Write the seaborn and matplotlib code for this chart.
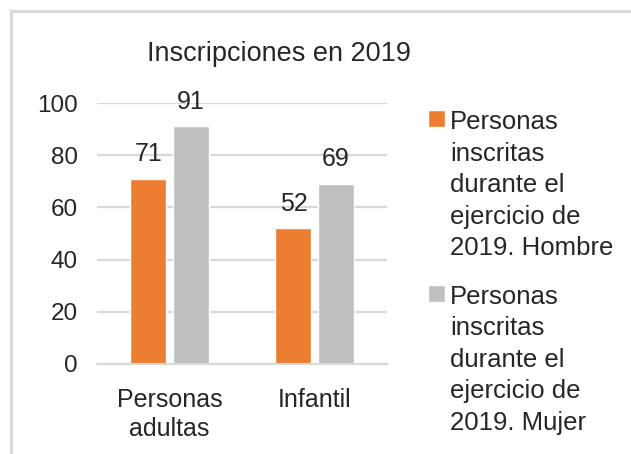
import matplotlib
matplotlib.use("Agg")
import matplotlib.pyplot as plt
import seaborn as sns
import pandas as pd
from matplotlib.patches import Rectangle

categorias = ["Personas\nadultas", "Infantil"]
series = [
    "Personas\ninscritas\ndurante el\nejercicio de\n2019. Hombre",
    "Personas\ninscritas\ndurante el\nejercicio de\n2019. Mujer",
]
hombre = [71, 52]
mujer = [91, 69]
colores = ["#ED7D31", "#BFBFBF"]
y_ticks = [0, 20, 40, 60, 80, 100]

df = pd.DataFrame({
    "categoria": categorias * 2,
    "serie": [series[0]] * 2 + [series[1]] * 2,
    "valor": hombre + mujer,
})

sns.set_theme(style="white")
plt.rcParams["font.family"] = ["Liberation Sans", "DejaVu Sans"]
texto = "#262626"

fig = plt.figure(figsize=(6.31, 4.54), dpi=100)
ax = fig.add_axes([97 / 631, 1 - 364 / 454, 290 / 631, 261 / 454])

sns.barplot(data=df, x="categoria", y="valor", hue="serie", palette=colores,
            width=0.58, gap=0.145, saturation=1, ax=ax, legend=True)

ax.set_ylim(0, 100)
ax.set_yticks(y_ticks)
ax.set_xlim(-0.5, 1.5)
ax.yaxis.grid(True, color="#D9D9D9", linewidth=1.6)
ax.set_axisbelow(True)
for s in ["top", "right", "left"]:
    ax.spines[s].set_visible(False)
ax.spines["bottom"].set_color("#D9D9D9")
ax.spines["bottom"].set_linewidth(1.6)
ax.tick_params(axis="both", length=0, colors=texto)
ax.tick_params(axis="y", pad=14, labelsize=17.5)
ax.tick_params(axis="x", pad=17, labelsize=18)
for lbl in ax.get_xticklabels():
    lbl.set_linespacing(1.3)
ax.set_xlabel("")
ax.set_ylabel("")

for cont in ax.containers:
    ax.bar_label(cont, fmt="%d", padding=9, fontsize=18, color=texto)

fig.text(279 / 631, 1 - 54 / 454, "Inscripciones en 2019", ha="center", va="center",
         fontsize=19.5, color=texto)

leg = ax.legend(loc="upper left", bbox_to_anchor=(428 / 631, 1 - 110 / 454),
                bbox_transform=fig.transFigure, frameon=False, fontsize=18.5,
                handlelength=0.65, handleheight=0.65, handletextpad=0.2,
                labelspacing=0.94, borderaxespad=0, borderpad=0)
for t in leg.get_texts():
    t.set_linespacing(1.4)
    t.set_color(texto)
# Put each legend swatch level with the first line of its label
for col in leg._legend_handle_box.get_children():
    for item in col.get_children():
        item.align = "top"

# Chart area border
fig.patches.append(Rectangle((10.5 / 631, -0.1), 1.2, 1 - 11.5 / 454 + 0.1,
                             transform=fig.transFigure, fill=False,
                             edgecolor="#D9D9D9", linewidth=2.2))

fig.savefig("out.png", dpi=100)
